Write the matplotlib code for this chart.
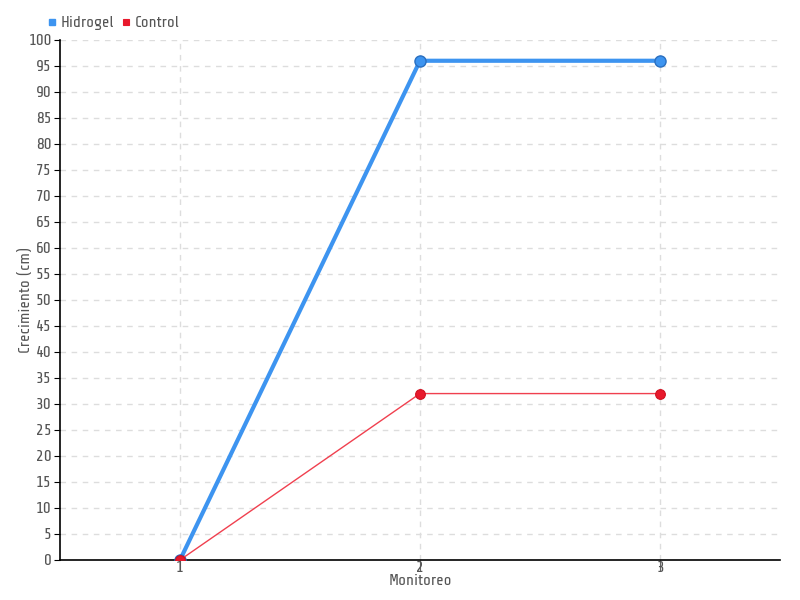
import matplotlib.pyplot as plt

monitoreo = [1, 2, 3]
hidrogel = [0, 96, 96]
control = [0, 32, 32]
y_ticks = list(range(0, 101, 5))

plt.rcParams["font.family"] = ["Share Tech", "DejaVu Sans"]

text_color = "#555555"

fig = plt.figure(figsize=(8, 6), dpi=100)
ax = fig.add_axes([0.075, 0.0667, 0.9, 0.8667])

ax.plot(monitoreo, hidrogel, color="#3d94f0", linewidth=3, marker="o",
        markersize=8, markerfacecolor="#3d94f0", markeredgecolor="#2a6fc0",
        markeredgewidth=1, label="Hidrogel", zorder=3)
ax.plot(monitoreo, control, color="#f0404f", linewidth=1, marker="o",
        markersize=7, markerfacecolor="#e8192c", markeredgecolor="#d01020",
        markeredgewidth=0.8, label="Control", zorder=4)

ax.set_xlim(0.5, 3.5)
ax.set_ylim(0, 100)
ax.set_xticks(monitoreo)
ax.set_xticklabels([str(m) for m in monitoreo])
ax.set_yticks(y_ticks)

ax.grid(True, color="#dddddd", linestyle=(0, (4, 4)), linewidth=1)
ax.set_axisbelow(True)

for s in ["top", "right"]:
    ax.spines[s].set_visible(False)
for s in ["left", "bottom"]:
    ax.spines[s].set_color("black")
    ax.spines[s].set_linewidth(1.2)

ax.tick_params(axis="y", direction="out", length=4, color="black",
               labelsize=12, labelcolor=text_color, pad=2)
ax.tick_params(axis="x", direction="out", length=8, color="#666666",
               labelsize=12, labelcolor=text_color, pad=-7)

ax.set_xlabel("Monitoreo", fontsize=11.5, color=text_color, labelpad=-1)
ax.set_ylabel("Crecimiento (cm)", fontsize=11.5, color=text_color)
ax.yaxis.set_label_coords(-0.037, 0.5)

leg = ax.legend(loc="lower left", bbox_to_anchor=(-0.03, 1.0), ncol=2,
                frameon=False, fontsize=11.5, handlelength=0.5,
                handletextpad=0.3, columnspacing=0.5, borderaxespad=0.2)
for h, c in zip(leg.legend_handles, ["#3d94f0", "#e8192c"]):
    h.set_linestyle("")
    h.set_marker("s")
    h.set_markersize(5)
    h.set_markerfacecolor(c)
    h.set_markeredgecolor(c)
for t in leg.get_texts():
    t.set_color(text_color)

fig.savefig("out.png", dpi=100)
